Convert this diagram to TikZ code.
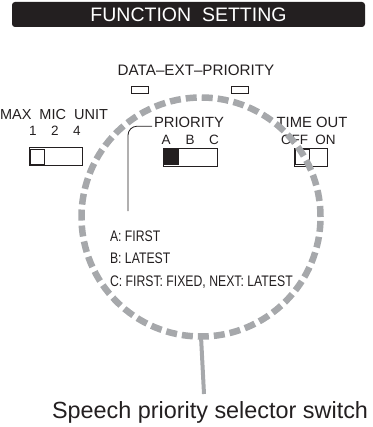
\documentclass[tikz,border=0pt]{standalone}
\usepackage{fontspec}
\setmainfont{Liberation Sans}
\newfontfamily\narrowfont[FakeStretch=0.80]{Liberation Sans}
\usetikzlibrary{positioning}

\definecolor{inkblack}{RGB}{35,31,32}
\definecolor{dashgray}{RGB}{166,168,171}

\tikzset{
  label15/.style={font=\fontsize{14.8}{16}\selectfont, text=inkblack},
  label13/.style={font=\fontsize{13.5}{14}\selectfont, text=inkblack},
  legend/.style={font=\narrowfont\fontsize{15.3}{16}\selectfont, text=inkblack, anchor=west},
  switchbox/.style={draw=inkblack, line width=1pt, minimum height=18pt},
  knob/.style={draw=inkblack, line width=1pt, fill=white, minimum width=14pt, minimum height=15pt},
  lamp/.style={draw=inkblack, line width=1pt, minimum width=17pt, minimum height=7pt},
}

\begin{document}
\begin{tikzpicture}[x=1pt, y=-1pt, every node/.style={inner sep=0pt, outer sep=0pt}]
    \useasboundingbox (0,0) rectangle (372,427);

    % Nodes
    \node (titlebar) [fill=inkblack, rounded corners=3pt, minimum width=353pt, minimum height=25pt] at (188.5,14.5) {};
    \node (title) [text=white, font=\fontsize{19.5}{21}\selectfont] at (titlebar.center) {FUNCTION\ \ SETTING};

    \node (dataext) [label15, font=\fontsize{15.2}{16}\selectfont] at (196,70) {DATA--EXT--PRIORITY};
    \node (lampa) [lamp] at (140,90.5) {};
    \node (lampb) [lamp] at (239.5,90.5) {};

    \node (maxmic) [label15, font=\fontsize{14.5}{16}\selectfont] at (54,114.5) {MAX\ \ MIC\ \ UNIT};
    \node (mic1) [label13] at (33,131) {1};
    \node (mic2) [label13] at (55,131) {2};
    \node (mic4) [label13] at (77,131) {4};
    \node (micsw) [switchbox, minimum width=53pt] at (55.5,157) {};
    \node (micknob) [knob, right=1.5pt of micsw.west] {};

    \node (prior) [label15] at (189,122.5) {PRIORITY};
    \node (prioa) [label13] at (166,140) {A};
    \node (priob) [label13] at (190,140) {B};
    \node (prioc) [label13] at (214,140) {C};
    \node (priosw) [switchbox, minimum width=54pt] at (190,157.5) {};
    \node (prioknob) [knob, fill=inkblack, right=1.5pt of priosw.west] {};

    \node (timeout) [label15] at (312,122.5) {TIME OUT};
    \node (tooff) [label13] at (294.5,140) {OFF};
    \node (toon) [label13] at (325.5,140) {ON};
    \node (tosw) [switchbox, minimum width=33pt] at (310.5,157.5) {};
    \node (toknob) [knob, right=1.5pt of tosw.west] {};

    \node (modea) [legend] at (110,236) {A: FIRST};
    \node (modeb) [legend] at (110,258.5) {B: LATEST};
    \node (modec) [legend] at (110,282.5) {C: FIRST: FIXED, NEXT: LATEST};

    \node (selector) [circle, draw=dashgray, line width=6.5pt, dash pattern=on 11pt off 5pt, minimum size=239pt] at (201,217) {};

    \node (callout) [anchor=base west, font=\fontsize{23.4}{26}\selectfont, text=inkblack] at (52,418) {Speech priority selector switch};
    \coordinate (leadend) at (128,211);
    \coordinate (stemend) at (204,394);

    % Lines
    \draw[inkblack, line width=0.8pt, rounded corners=9pt] (prior.south west) ++(-2,-1.5) -| (leadend);
    \draw[dashgray, line width=4pt] (selector.south) -- (stemend);
\end{tikzpicture}
\end{document}
